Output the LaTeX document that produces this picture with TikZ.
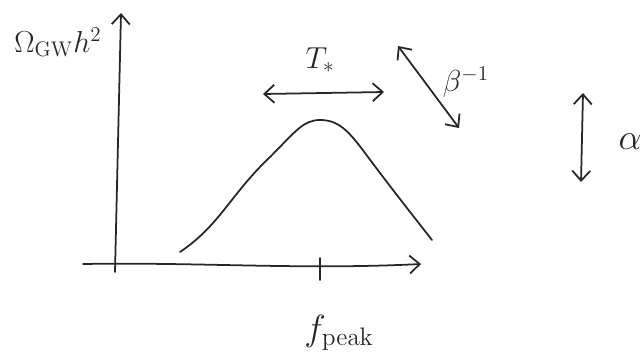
\documentclass[tikz,border=0pt]{standalone}
\usetikzlibrary{arrows.meta}

\begin{document}
\begin{tikzpicture}[
  x=0.02cm,y=-0.02cm,
  pen/.style={line width=1pt,black!85,line cap=round,line join=round},
  axis/.style={pen,-{Straight Barb[length=2mm,width=3.6mm]}},
  span/.style={pen,{Straight Barb[length=2mm,width=3.6mm]}-{Straight Barb[length=2mm,width=3.6mm]}},
  label/.style={inner sep=0pt,text=black!85}
]
  \useasboundingbox (0,0) rectangle (644,359);
  \coordinate (yfoot) at (115,272);
  \coordinate (ytip) at (121,13);
  \coordinate (xfoot) at (83,264);
  \coordinate (xtip) at (421,264);
  \coordinate (tickup) at (320,258);
  \coordinate (tickdn) at (320,280);
  \coordinate (tl) at (263,94);
  \coordinate (tr) at (384,92);
  \coordinate (bl) at (398,46);
  \coordinate (br) at (459,128);
  \coordinate (at) at (583,93);
  \coordinate (ab) at (581,182);
  \coordinate (start) at (180,252);
  \coordinate (peak) at (320,120);
  \coordinate (stop) at (432,240);
  \node[label] (omega) at (58,42) {\LARGE$\Omega_{\mathrm{GW}}h^2$};
  \node[label] (tstar) at (320,60) {\LARGE$T_*$};
  \node[label] (beta) at (466,82) {\LARGE$\beta^{-1}$};
  \node[label] (alpha) at (630,142) {\huge$\alpha$};
  \node[label] (fpeak) at (339,333) {\huge$f_{\mathrm{peak}}$};
  \draw[axis] (yfoot) -- (ytip);
  \draw[axis] (xfoot) .. controls (200,262) and (300,270) .. (xtip);
  \draw[pen] (tickup) -- (tickdn);
  \draw[pen] (start) .. controls (220,225) and (230,195) .. (270,157)
    .. controls (295,132) and (303,120) .. (peak)
    .. controls (338,120) and (348,130) .. (365,153)
    .. controls (385,180) and (410,212) .. (stop);
  \draw[span] (tl) -- (tr);
  \draw[span] (bl) -- (br);
  \draw[span] (at) -- (ab);
\end{tikzpicture}
\end{document}
